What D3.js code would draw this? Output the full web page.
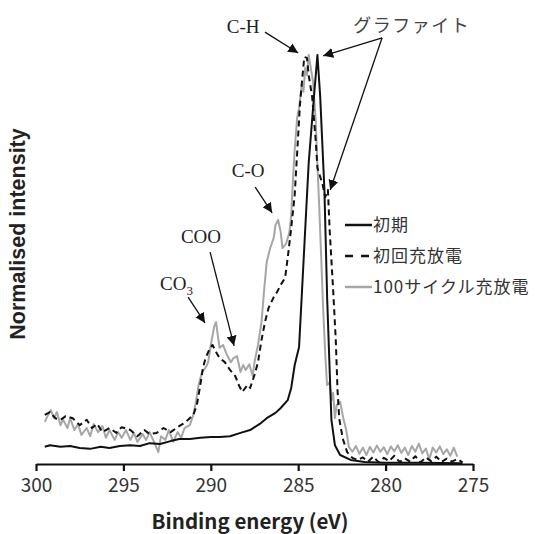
<!DOCTYPE html>
<html>
<head>
<meta charset="utf-8">
<script src="https://cdn.jsdelivr.net/npm/d3@7"></script>
<style>
  body { margin: 0; background: #fff; }
  svg { display: block; }
</style>
</head>
<body>
<script>
// XPS C1s スペクトル (eV, normalised intensity)
const initialCurve = [
  [299.5, 0.042], [299.2, 0.046], [298.6, 0.042], [298.05, 0.044], [297.5, 0.039],
  [296.9, 0.037], [296.3, 0.042], [295.8, 0.039], [295.2, 0.044], [294.6, 0.046],
  [294.05, 0.044], [293.5, 0.051], [292.9, 0.049], [292.3, 0.056], [291.8, 0.061],
  [291.2, 0.061], [290.6, 0.064], [290.0, 0.066], [289.5, 0.066], [288.9, 0.068],
  [288.3, 0.076], [287.75, 0.083], [287.2, 0.098], [286.8, 0.112], [286.3, 0.125],
  [286.0, 0.137], [285.6, 0.156], [285.4, 0.186], [285.2, 0.242], [284.95, 0.286],
  [284.7, 0.491], [284.4, 0.736], [284.1, 0.897], [283.9, 1.0], [283.74, 0.897],
  [283.5, 0.67], [283.34, 0.401], [283.2, 0.23], [283.1, 0.108], [282.9, 0.046],
  [282.6, 0.022], [282.0, 0.01], [281.2, 0.005], [280.0, 0.003], [278.0, 0.003],
  [275.6, 0.002]
]

const firstCycleCurve = [
  [299.5, 0.12], [299.2, 0.127], [298.9, 0.112], [298.6, 0.108], [298.3, 0.117],
  [297.9, 0.112], [297.5, 0.095], [297.1, 0.108], [296.8, 0.088], [296.5, 0.098],
  [296.2, 0.078], [295.8, 0.088], [295.4, 0.076], [295.1, 0.09], [294.6, 0.083],
  [294.2, 0.068], [293.8, 0.083], [293.5, 0.073], [293.1, 0.076], [292.7, 0.088],
  [292.3, 0.078], [291.9, 0.09], [291.6, 0.098], [291.3, 0.108], [291.0, 0.12],
  [290.8, 0.144], [290.6, 0.193], [290.45, 0.235], [290.3, 0.259], [290.04, 0.284],
  [289.9, 0.291], [289.7, 0.274], [289.5, 0.259], [289.2, 0.249], [288.9, 0.23],
  [288.6, 0.215], [288.4, 0.193], [288.2, 0.176], [287.9, 0.193], [287.75, 0.186],
  [287.5, 0.218], [287.3, 0.249], [287.1, 0.303], [286.9, 0.347], [286.7, 0.381],
  [286.4, 0.408], [286.2, 0.421], [286.0, 0.438], [285.75, 0.455], [285.6, 0.504],
  [285.4, 0.577], [285.2, 0.658], [285.05, 0.768], [284.9, 0.878], [284.75, 0.951],
  [284.65, 0.995], [284.5, 0.993], [284.4, 0.951], [284.2, 0.897], [284.0, 0.792],
  [283.9, 0.724], [283.74, 0.702], [283.6, 0.682], [283.45, 0.653], [283.3, 0.67],
  [283.2, 0.572], [283.0, 0.425], [282.85, 0.303], [282.75, 0.18], [282.65, 0.11],
  [282.45, 0.062], [282.2, 0.029], [281.9, 0.015], [281.6, 0.01], [281.3, 0.016],
  [281.0, 0.006], [280.7, 0.018], [280.4, 0.004], [280.1, 0.015], [279.8, 0.007],
  [279.5, 0.02], [279.2, 0.005], [278.9, 0.014], [278.6, 0.006], [278.3, 0.019],
  [278.0, 0.004], [277.7, 0.016], [277.4, 0.007], [277.1, 0.018], [276.8, 0.005],
  [276.5, 0.013], [276.2, 0.006], [275.9, 0.012], [275.6, 0.004]
]

const cycle100Curve = [
  [299.5, 0.103], [299.3, 0.12], [299.15, 0.132], [298.97, 0.112], [298.8, 0.127],
  [298.6, 0.095], [298.45, 0.108], [298.2, 0.088], [298.05, 0.112], [297.8, 0.083],
  [297.6, 0.098], [297.4, 0.071], [297.1, 0.088], [296.9, 0.068], [296.7, 0.098],
  [296.45, 0.078], [296.2, 0.093], [296.0, 0.064], [295.8, 0.083], [295.5, 0.059],
  [295.3, 0.078], [295.1, 0.064], [294.85, 0.083], [294.6, 0.059], [294.4, 0.076],
  [294.2, 0.054], [293.9, 0.073], [293.7, 0.059], [293.5, 0.078], [293.25, 0.054],
  [293.0, 0.029], [292.85, 0.068], [292.6, 0.059], [292.4, 0.083], [292.15, 0.054],
  [291.9, 0.078], [291.7, 0.064], [291.5, 0.088], [291.2, 0.095], [291.0, 0.12],
  [290.85, 0.152], [290.7, 0.193], [290.5, 0.225], [290.3, 0.235], [290.15, 0.249],
  [290.0, 0.291], [289.8, 0.337], [289.7, 0.347], [289.6, 0.315], [289.5, 0.284],
  [289.3, 0.291], [289.1, 0.269], [288.85, 0.249], [288.7, 0.259], [288.5, 0.264],
  [288.3, 0.225], [288.15, 0.242], [288.0, 0.23], [287.8, 0.244], [287.6, 0.215],
  [287.5, 0.249], [287.3, 0.291], [287.1, 0.347], [286.95, 0.425], [286.8, 0.494],
  [286.6, 0.528], [286.4, 0.553], [286.3, 0.584], [286.15, 0.597], [286.0, 0.567],
  [285.9, 0.528], [285.7, 0.538], [285.5, 0.567], [285.4, 0.609], [285.3, 0.694],
  [285.2, 0.768], [285.06, 0.846], [284.95, 0.87], [284.8, 0.927], [284.7, 0.91],
  [284.6, 0.968], [284.5, 0.951], [284.4, 1.0], [284.26, 0.963], [284.15, 0.934],
  [284.0, 0.841], [283.9, 0.731], [283.8, 0.633], [283.7, 0.523], [283.57, 0.377],
  [283.45, 0.267], [283.35, 0.193], [283.2, 0.2], [283.1, 0.156], [283.0, 0.174],
  [282.9, 0.112], [282.8, 0.144], [282.6, 0.152], [282.4, 0.108], [282.25, 0.083],
  [282.1, 0.042], [281.9, 0.03], [281.7, 0.044], [281.5, 0.025], [281.3, 0.04],
  [281.1, 0.022], [280.9, 0.042], [280.7, 0.028], [280.5, 0.045], [280.3, 0.03],
  [280.1, 0.041], [279.9, 0.024], [279.7, 0.043], [279.5, 0.031], [279.3, 0.046],
  [279.1, 0.027], [278.9, 0.04], [278.7, 0.022], [278.5, 0.044], [278.3, 0.03],
  [278.1, 0.05], [277.9, 0.026], [277.7, 0.038], [277.5, 0.012], [277.3, 0.04],
  [277.1, 0.028], [276.9, 0.043], [276.7, 0.024], [276.5, 0.036], [276.3, 0.02],
  [276.1, 0.04], [275.9, 0.018]
]

const xTicks = [300, 295, 290, 285, 280, 275]

const seriesNames = ['初期', '初回充放電', '100サイクル充放電']

// 注釈: テキスト位置と矢印 (eV, intensity)
const labels = [
  { text: 'C-H', x: 288.15, y: 1.054, anchor: 'middle' },
  { text: 'C-O', x: 287.86, y: 0.702, anchor: 'middle' },
  { text: 'COO', x: 290.56, y: 0.54, anchor: 'middle' },
  { text: 'CO', sub: '3', x: 292.9, y: 0.425, anchor: 'start' }
]
const arrows = [
  { from: [286.9, 1.056], to: [285.0, 1.005], head: true },
  { from: [280.2, 1.042], to: [283.57, 0.998], head: true },
  { from: [280.2, 1.042], to: [283.17, 0.67], head: true },
  { from: [287.46, 0.677], to: [286.49, 0.614], head: true },
  { from: [290.04, 0.518], to: [288.67, 0.289], head: true },
  { from: [291.3, 0.408], to: [290.33, 0.345], head: true }
]

let w = 537,
    h = 534

let svg = d3.select('body').append('svg')
    .attr('width', w)
    .attr('height', h)

let x = d3.scaleLinear().domain([300, 275]).range([36, 473])
let y = d3.scaleLinear().domain([0, 1]).range([464, 55])

// 矢印マーカー
svg.append('defs').append('marker')
    .attr('id', 'head')
    .attr('viewBox', '0 0 10 10')
    .attr('refX', 10)
    .attr('refY', 5)
    .attr('markerWidth', 10)
    .attr('markerHeight', 10)
    .attr('markerUnits', 'userSpaceOnUse')
    .attr('orient', 'auto')
    .append('path')
    .attr('d', 'M0,0 L10,5 L0,10 Z')
    .attr('fill', '#111')

const styles = [
  { stroke: '#111', dash: null },
  { stroke: '#111', dash: '6,4' },
  { stroke: '#a6a6a6', dash: null }
]

let line = d3.line().x(d => x(d[0])).y(d => y(d[1]))

// 描画順: 灰 → 破線 → 黒
const curves = [initialCurve, firstCycleCurve, cycle100Curve]
;[2, 1, 0].forEach(i => {
  svg.append('path')
      .datum(curves[i])
      .attr('d', line)
      .attr('fill', 'none')
      .attr('stroke', styles[i].stroke)
      .attr('stroke-width', 2)
      .attr('stroke-dasharray', styles[i].dash)
      .attr('stroke-linejoin', 'round')
})

// x 軸
let xAxis = d3.axisBottom(x).tickValues(xTicks).tickSize(7).tickSizeOuter(0).tickPadding(8)
let gx = svg.append('g')
    .attr('transform', 'translate(0,' + y(0) + ')')
    .call(xAxis)
gx.select('.domain').attr('stroke', '#111').attr('stroke-width', 2.2)
gx.selectAll('.tick line').attr('stroke', '#111').attr('stroke-width', 2.2)
gx.selectAll('.tick text')
    .attr('font-family', '"Noto Sans CJK JP", "Noto Sans", sans-serif')
    .attr('font-size', 19)
    .attr('fill', '#333')

svg.append('text')
    .attr('x', 250)
    .attr('y', 529)
    .attr('text-anchor', 'middle')
    .attr('font-family', '"Noto Sans CJK JP", "Noto Sans", sans-serif')
    .attr('font-weight', 'bold')
    .attr('font-size', 20.5)
    .attr('fill', '#222')
    .text('Binding energy (eV)')

svg.append('text')
    .attr('transform', 'translate(25,234) rotate(-90)')
    .attr('text-anchor', 'middle')
    .attr('font-family', '"Liberation Sans", Arial, sans-serif')
    .attr('font-weight', 'bold')
    .attr('font-size', 21.5)
    .attr('fill', '#222')
    .text('Normalised intensity')

// 注釈
labels.forEach(d => {
  let t = svg.append('text')
      .attr('x', x(d.x))
      .attr('y', y(d.y))
      .attr('text-anchor', d.anchor)
      .attr('font-family', '"Liberation Serif", "Times New Roman", serif')
      .attr('font-size', 19)
      .attr('fill', '#222')
      .text(d.text)
  if (d.sub) {
    t.append('tspan')
        .attr('dy', 5)
        .attr('font-size', 13)
        .text(d.sub)
  }
})

svg.append('text')
    .attr('x', x(281.85))
    .attr('y', y(1.056))
    .attr('font-family', '"Noto Sans CJK JP", sans-serif')
    .attr('font-size', 18)
    .attr('letter-spacing', 1.5)
    .attr('fill', '#444')
    .text('グラファイト')

arrows.forEach(a => {
  svg.append('line')
      .attr('x1', x(a.from[0]))
      .attr('y1', y(a.from[1]))
      .attr('x2', x(a.to[0]))
      .attr('y2', y(a.to[1]))
      .attr('stroke', '#111')
      .attr('stroke-width', 1.3)
      .attr('marker-end', a.head ? 'url(#head)' : null)
})

// 凡例
let legend = svg.append('g').attr('transform', 'translate(345,225)')
let item = legend.selectAll('g')
    .data(seriesNames)
    .enter()
    .append('g')
    .attr('transform', (d, i) => 'translate(0,' + i * 31 + ')')

item.append('line')
    .attr('x1', 0)
    .attr('x2', 27)
    .attr('stroke', (d, i) => styles[i].stroke)
    .attr('stroke-width', 2.5)
    .attr('stroke-dasharray', (d, i) => i == 1 ? '8,8' : null)

item.append('text')
    .attr('x', 28)
    .attr('dy', '0.35em')
    .attr('font-family', '"Noto Sans CJK JP", sans-serif')
    .attr('font-size', 17)
    .attr('letter-spacing', 1)
    .attr('fill', '#333')
    .text(d => d)
</script>
</body>
</html>
